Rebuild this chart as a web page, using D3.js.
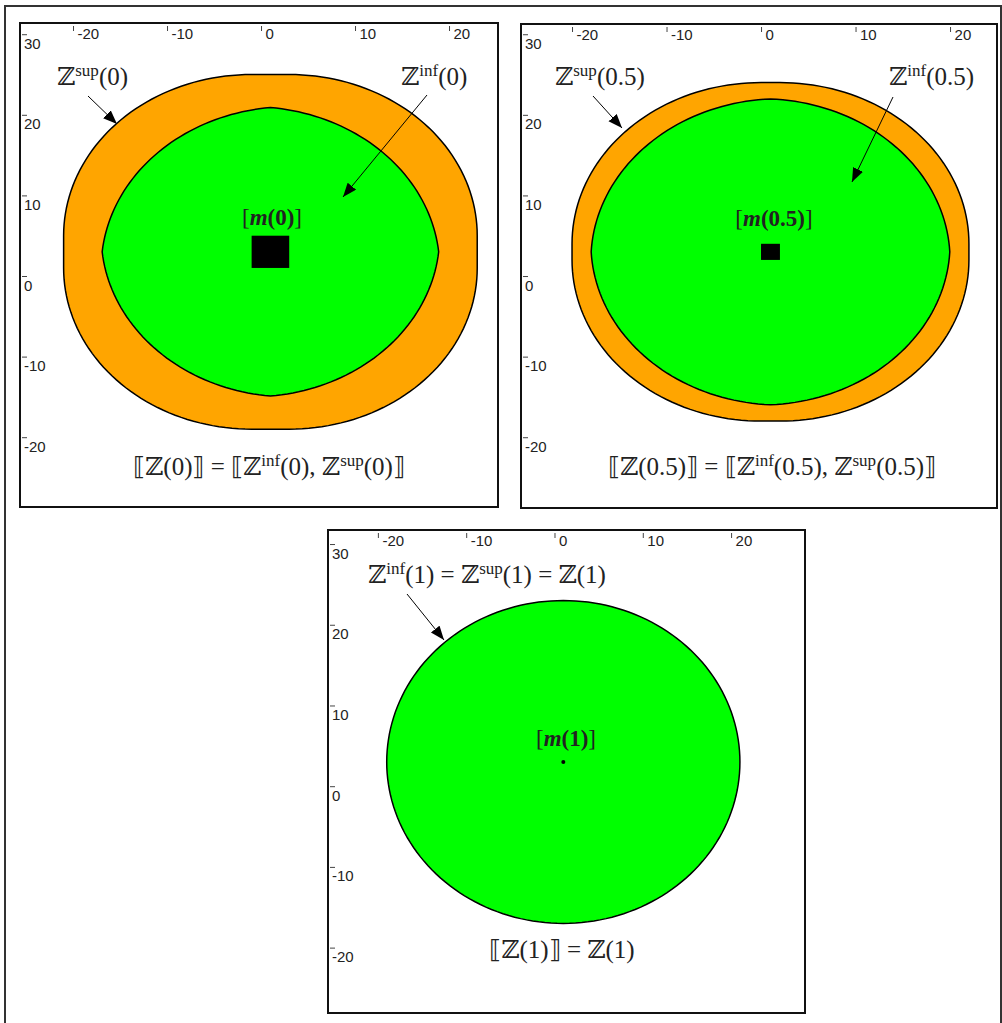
<!DOCTYPE html>
<html><head><meta charset="utf-8">
<script src="https://cdn.jsdelivr.net/npm/d3@7"></script>
<style>
html,body{margin:0;padding:0;background:#fff;}
svg{display:block;}
.math{font-family:"Liberation Serif","DejaVu Serif",serif;fill:#222;}
</style></head>
<body>
<script>
// ---- data ----
const alphaLevels   = [0, 0.5, 1];          // membership levels shown
const centerX       = [1, 1, 1];            // centre of Z(alpha)
const centerY       = [3, 3, 3];
const discRadius    = [20, 20, 20];         // radius of the core disc
const meanHalfSide  = [2, 1, 0];            // half side of [m(alpha)]
const xTicks = [-20, -10, 0, 10, 20];
const yTicks = [30, 20, 10, 0, -10, -20];
const levelLabels  = ["0", "0.5", "1"];

// ---- layout ----
const W = 1002, H = 1023;
const svg = d3.select("body").append("svg").attr("width", W).attr("height", H);
svg.append("defs").append("marker")
  .attr("id", "arr").attr("markerUnits", "userSpaceOnUse")
  .attr("markerWidth", 16).attr("markerHeight", 12)
  .attr("refX", 14).attr("refY", 5.5).attr("orient", "auto")
  .append("path").attr("d", "M0,0 L14,5.5 L0,11 Z").attr("fill", "#000");

svg.append("rect").attr("x", 5).attr("y", 6).attr("width", 996).attr("height", 1030)
  .attr("fill", "none").attr("stroke", "#333").attr("stroke-width", 2);

const panels = [
  {left: 20, top: 23, right: 498, bottom: 507, xd: [-25.64, 25.21], yd: [31.39, -28.66],
   supLab: {x: 57, y: 85}, supArrow: [[88, 96], [117, 124]],
   infLab: {x: 401, y: 85}, infArrow: [[427, 95], [343, 197]],
   mLab: {x: 272, y: 225}, formula: {x: 269, y: 475}},
  {left: 521, top: 24, right: 997, bottom: 508, xd: [-25.4, 24.97], yd: [31.27, -28.78],
   supLab: {x: 555, y: 85}, supArrow: [[593, 96], [622, 128]],
   infLab: {x: 889, y: 85}, infArrow: [[893, 97], [852, 182]],
   mLab: {x: 774, y: 226}, formula: {x: 772, y: 475}},
  {left: 328, top: 530, right: 805, bottom: 1013, xd: [-25.65, 28.37], yd: [31.74, -28.1],
   eqLab: {x: 368, y: 583}, eqArrow: [[407, 594], [444, 640]],
   mLab: {x: 566, y: 746}, formula: {x: 562, y: 958}}
];

function supOutline(cx, cy, r, h) {           // disc (+) square
  const pts = [];
  const q = [[1, 1, 0], [-1, 1, 90], [-1, -1, 180], [1, -1, 270]];
  q.forEach(([sx, sy, a0]) => {
    d3.range(0, 91, 2).forEach(a => {
      const t = (a0 + a) * Math.PI / 180;
      pts.push([cx + sx * h + r * Math.cos(t), cy + sy * h + r * Math.sin(t)]);
    });
  });
  return pts;
}
function infOutline(cx, cy, r, h) {           // disc (-) square
  const pts = [];
  const p0 = Math.asin(Math.min(h / r, 1)) * 180 / Math.PI;
  const q = [[1, 1, 0], [-1, 1, 90], [-1, -1, 180], [1, -1, 270]];
  q.forEach(([sx, sy, a0]) => {
    const n = 45;
    d3.range(n + 1).forEach(i => {
      const a = p0 + (90 - 2 * p0) * i / n;
      const t = (a0 + a) * Math.PI / 180;
      pts.push([cx - sx * h + r * Math.cos(t), cy - sy * h + r * Math.sin(t)]);
    });
  });
  return pts;
}

function mathText(g, x, y, parts, size, anchor) {
  const t = g.append("text").attr("class", "math").attr("x", x).attr("y", y)
    .attr("font-size", size).attr("text-anchor", anchor || "start");
  let pending = 0;
  parts.forEach(p => {
    if (p.sup) {
      t.append("tspan").attr("font-size", size * 0.68).attr("dy", -size * 0.36 + pending).text(p.sup);
      pending = size * 0.36;
    } else {
      const s = t.append("tspan").text(p.t);
      if (pending) { s.attr("dy", pending); pending = 0; }
      if (p.bold) s.attr("font-weight", "bold");
      if (p.italic) s.attr("font-style", "italic");
    }
  });
  return t;
}
function arrow(g, a) {
  g.append("line").attr("x1", a[0][0]).attr("y1", a[0][1]).attr("x2", a[1][0]).attr("y2", a[1][1])
    .attr("stroke", "#000").attr("stroke-width", 1).attr("marker-end", "url(#arr)");
}

panels.forEach((P, i) => {
  const g = svg.append("g");
  const x = d3.scaleLinear().domain(P.xd).range([P.left, P.right]);
  const y = d3.scaleLinear().domain(P.yd).range([P.top, P.bottom]);
  const line = d3.line().x(d => x(d[0])).y(d => y(d[1])).curve(d3.curveLinearClosed);
  const cx = centerX[i], cy = centerY[i], r = discRadius[i], h = meanHalfSide[i];

  g.append("rect").attr("x", P.left).attr("y", P.top)
    .attr("width", P.right - P.left).attr("height", P.bottom - P.top)
    .attr("fill", "#fff");

  if (h > 0) {
    g.append("path").attr("d", line(supOutline(cx, cy, r, h)))
      .attr("fill", "#FFA500").attr("stroke", "#000").attr("stroke-width", 1.5);
  }
  g.append("path").attr("d", line(infOutline(cx, cy, r, h)))
    .attr("fill", "#00FF00").attr("stroke", "#000").attr("stroke-width", 1.5);

  if (h > 0) {
    g.append("rect").attr("x", x(cx - h)).attr("y", y(cy + h))
      .attr("width", x(cx + h) - x(cx - h)).attr("height", y(cy - h) - y(cy + h)).attr("fill", "#000");
  } else {
    g.append("circle").attr("cx", x(cx)).attr("cy", y(cy)).attr("r", 2).attr("fill", "#000");
  }

  // axes
  const xa = g.append("g").attr("transform", `translate(0,${P.top + 3})`)
    .call(d3.axisBottom(x).tickValues(xTicks).tickSize(5).tickFormat(d => String(d)));
  xa.attr("font-size", 15).attr("font-family", "Liberation Sans, Arial, sans-serif");
  xa.select(".domain").remove();
  xa.selectAll(".tick line").attr("stroke", "#444");
  xa.selectAll(".tick text").attr("x", 4).attr("y", 13).attr("dy", 0)
    .attr("text-anchor", "start").attr("fill", "#222");
  const ya = g.append("g").attr("transform", `translate(${P.left + 2},0)`)
    .call(d3.axisRight(y).tickValues(yTicks).tickSize(5).tickFormat(d => String(d)));
  ya.attr("font-size", 15).attr("font-family", "Liberation Sans, Arial, sans-serif");
  ya.select(".domain").remove();
  ya.selectAll(".tick line").attr("stroke", "#444");
  ya.selectAll(".tick text").attr("x", 2).attr("y", 14).attr("dy", 0)
    .attr("text-anchor", "start").attr("fill", "#222");

  g.append("rect").attr("x", P.left).attr("y", P.top)
    .attr("width", P.right - P.left).attr("height", P.bottom - P.top)
    .attr("fill", "none").attr("stroke", "#111").attr("stroke-width", 2);

  const a = levelLabels[i];
  if (h > 0) {
    mathText(g, P.supLab.x, P.supLab.y, [{t: "ℤ"}, {sup: "sup"}, {t: "(" + a + ")"}], 25);
    arrow(g, P.supArrow);
    mathText(g, P.infLab.x, P.infLab.y, [{t: "ℤ"}, {sup: "inf"}, {t: "(" + a + ")"}], 25);
    arrow(g, P.infArrow);
    mathText(g, P.formula.x, P.formula.y,
      [{t: "⟦ℤ(" + a + ")⟧ = ⟦ℤ"}, {sup: "inf"}, {t: "(" + a + "), ℤ"}, {sup: "sup"}, {t: "(" + a + ")⟧"}], 25, "middle");
  } else {
    mathText(g, P.eqLab.x, P.eqLab.y,
      [{t: "ℤ"}, {sup: "inf"}, {t: "(" + a + ") = ℤ"}, {sup: "sup"}, {t: "(" + a + ") = ℤ(" + a + ")"}], 25);
    arrow(g, P.eqArrow);
    mathText(g, P.formula.x, P.formula.y, [{t: "⟦ℤ(" + a + ")⟧ = ℤ(" + a + ")"}], 25, "middle");
  }
  mathText(g, P.mLab.x, P.mLab.y,
    [{t: "["}, {t: "m", bold: true, italic: true}, {t: "(" + a + ")", bold: true}, {t: "]"}], 23, "middle");
});
</script>
</body></html>
